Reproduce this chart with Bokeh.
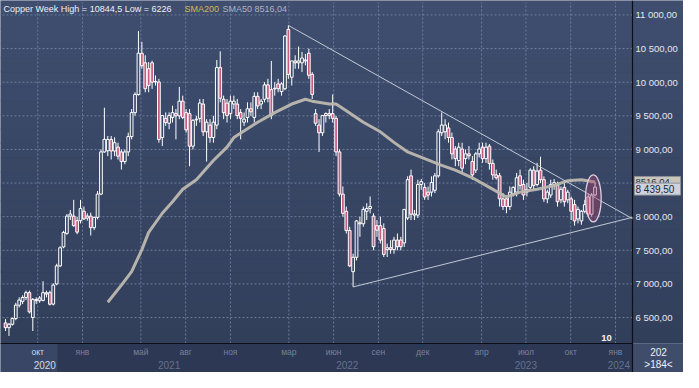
import numpy as np
import pandas as pd
from bokeh.plotting import figure
from bokeh.models import ColumnDataSource, Range1d
from bokeh.core.properties import value
from bokeh.embed import file_html
from bokeh.resources import INLINE

# ---------------- data (weekly copper candles) ----------------
start = "2020-07-27"
opens = [6420, 6350, 6400, 6485, 6684, 6740, 6798, 6870, 6500, 6769,
         6750, 6755, 6869, 6869, 6700, 7000, 7268, 7550, 7752, 8008,
         8008, 7940, 7940, 8080, 7980, 8008, 7837, 7990, 8336, 8963,
         8980, 9148, 8977, 9034, 8963, 8820, 8963, 9191, 9547, 9818,
         10430, 10288, 10200, 10288, 10003, 10003, 9177, 9462, 9390, 9476,
         9533, 9500, 9718, 9547, 9533, 9048, 9440, 9462, 9675, 9262,
         9362, 9177, 9362, 10217, 9746, 9689, 9533, 9675, 9675, 9547,
         9405, 9476, 9604, 9476, 9789, 9675, 9746, 9960, 9889, 9900,
         9974, 9860, 9903, 10786, 10074, 10316, 10288, 10288, 10330, 10430,
         10117, 9533, 9362, 9248, 9504, 9533, 9533, 9462, 8963, 8336,
         8080, 7795, 7182, 7396, 7909, 7894, 8080, 8122, 8008, 7866,
         7866, 7823, 7510, 7538, 7510, 7652, 7652, 7610, 7980, 8607,
         8023, 8023, 8479, 8436, 8365, 8365, 8393, 8607, 9248, 9262,
         9319, 9177, 9006, 8835, 9006, 8863, 8934, 8820, 8692, 8934,
         9034, 8863, 9048, 8792, 8621, 8607, 8265, 8265, 8151, 8336,
         8365, 8607, 8479, 8365, 8436, 8692, 8478, 8692, 8550, 8265,
         8322, 8479, 8464, 8251, 8436, 8251, 8265, 8179, 7966, 7937,
         8080, 8293, 8037, 8322]
highs = [6480, 6420, 6500, 6720, 6800, 6830, 6900, 6900, 6790, 6800,
         6820, 7040, 6900, 6900, 7010, 7300, 7560, 7790, 8040, 8100,
         8250, 8000, 8250, 8150, 8050, 8060, 8000, 8380, 9000, 9620,
         9200, 9200, 9180, 9100, 9000, 9000, 9250, 9600, 9850, 10760,
         10600, 10400, 10300, 10320, 10100, 10050, 9500, 9550, 9550, 9650,
         9600, 9930, 9800, 9600, 9600, 9450, 9500, 9750, 9750, 9450,
         9450, 9500, 10330, 10459, 9800, 9750, 9800, 9800, 9750, 9600,
         9550, 9700, 9700, 9850, 9850, 9750, 10000, 10050, 10316, 10000,
         10050, 10000, 10700, 10844.5, 10200, 10400, 10530, 10450, 10420, 10500,
         10150, 9600, 9450, 9450, 9550, 9600, 9818, 9500, 9000, 8450,
         8150, 7850, 7450, 7950, 8000, 8150, 8200, 8300, 8050, 7950,
         8000, 7900, 7600, 7650, 7700, 7750, 7700, 8100, 8600, 8700,
         8100, 8550, 8560, 8500, 8450, 8600, 8650, 9300, 9550, 9450,
         9400, 9250, 9050, 9100, 9100, 9000, 9050, 8900, 8960, 9100,
         9100, 9100, 9080, 8850, 8700, 8650, 8350, 8300, 8450, 8450,
         8650, 8700, 8550, 8500, 8720, 8750, 8800, 8892, 8600, 8400,
         8550, 8560, 8520, 8450, 8500, 8400, 8300, 8250, 8150, 8100,
         8250, 8350, 8350, 8520]
lows = [6300, 6226, 6380, 6460, 6650, 6700, 6760, 6560, 6300, 6700,
        6720, 6740, 6800, 6680, 6680, 6980, 7250, 7530, 7730, 7950,
        7850, 7740, 7900, 7950, 7940, 7720, 7800, 7960, 8320, 8950,
        8900, 8850, 8900, 8850, 8700, 8780, 8900, 9150, 9500, 9800,
        10200, 9850, 9850, 9900, 9950, 9100, 9050, 9350, 9300, 9400,
        9150, 9450, 9450, 9250, 8750, 9000, 9350, 9400, 9200, 8820,
        9100, 9100, 9300, 9700, 9450, 9400, 9450, 9600, 9450, 9150,
        9350, 9400, 9500, 9400, 9600, 9600, 9700, 9700, 9450, 9800,
        9850, 9800, 9880, 10050, 9950, 10200, 10200, 10150, 10250, 10050,
        9750, 9350, 8963, 9200, 9400, 9450, 9400, 8900, 8300, 8000,
        7750, 7250, 6955, 7350, 7700, 7850, 7950, 8050, 7500, 7700,
        7600, 7400, 7400, 7450, 7450, 7500, 7500, 7550, 7950, 7950,
        7950, 7980, 8400, 8250, 8250, 8300, 8350, 8580, 9200, 9150,
        9100, 8850, 8750, 8750, 8650, 8780, 8850, 8550, 8650, 8880,
        8800, 8800, 8700, 8550, 8550, 8150, 8100, 8050, 8100, 8300,
        8300, 8400, 8250, 8300, 8400, 8400, 8450, 8500, 8220, 8200,
        8280, 8400, 8150, 8200, 8150, 8200, 7950, 7866, 7900, 7880,
        8050, 8000, 8000, 8300]
closes = [6350, 6400, 6485, 6684, 6760, 6798, 6870, 6584, 6769, 6750,
          6790, 6869, 6850, 6698, 6983, 7268, 7538, 7766, 8008, 8040,
          7866, 7770, 8122, 7966, 8008, 7837, 7990, 8336, 8963, 9150,
          9148, 8977, 9100, 8900, 8820, 8963, 9191, 9547, 9818, 10430,
          10245, 9903, 9950, 10000, 10010, 9148, 9504, 9400, 9504, 9547,
          9500, 9718, 9476, 9291, 9048, 9433, 9450, 9689, 9262, 9405,
          9177, 9405, 10217, 9761, 9547, 9504, 9718, 9718, 9504, 9462,
          9450, 9604, 9560, 9789, 9647, 9718, 9960, 9761, 9504, 9910,
          9903, 9974, 10687, 10117, 10316, 10288, 10316, 10359, 10316, 10103,
          9818, 9390, 9248, 9504, 9533, 9504, 9462, 8963, 8336, 8051,
          7795, 7268, 7396, 7937, 7894, 8108, 8122, 8151, 7553, 7800,
          7652, 7439, 7538, 7510, 7652, 7553, 7553, 8108, 8550, 8037,
          8040, 8479, 8521, 8293, 8320, 8507, 8607, 9262, 9362, 9362,
          9177, 8934, 8863, 9034, 8721, 8934, 8906, 8621, 8934, 9006,
          8863, 9034, 8792, 8621, 8578, 8265, 8151, 8151, 8365, 8436,
          8578, 8464, 8322, 8407, 8692, 8464, 8678, 8550, 8265, 8365,
          8479, 8507, 8222, 8407, 8222, 8365, 8080, 7937, 8108, 8080,
          8179, 8037, 8322, 8439.5]

# SMA50 line (week index, value)
sma_week = [30, 34, 37, 40, 42, 46, 49, 52, 56, 61, 65, 67, 74, 79, 84, 88, 90, 95, 97,
            100, 105, 110, 114, 118, 123, 128, 132, 137, 142, 147, 151, 156, 161, 165, 169, 173]
sma_value = [6727, 6983, 7182, 7510, 7766, 8051, 8222, 8407, 8550, 8835, 9034, 9177, 9405,
             9547, 9675, 9746, 9718, 9675, 9675, 9576, 9405, 9262, 9105, 8963, 8863, 8764,
             8692, 8578, 8436, 8293, 8365, 8407, 8464, 8536, 8550, 8516]
sma_last = 8516.04

# triangle trend lines (week index, price)
upper_week = [83, 184]
upper_price = [10844.5, 7970]
lower_week = [102, 184]
lower_price = [6955, 7990]

# highlight ellipse round the last candles
mark_week = [172.5]
mark_price = [8272]
mark_w = [4.6]
mark_h = [700]

# axes
price_ticks = [6500, 7000, 7500, 8000, 8500, 9000, 9500, 10000, 10500, 11000]
price_labels = ["6 500,00", "7 000,00", "7 500,00", "8 000,00", "8 500,00", "9 000,00",
                "9 500,00", "10 000,00", "10 500,00", "11 000,00"]
month_dates = ["2020-10-01", "2021-01-01", "2021-05-01", "2021-08-01", "2021-11-01",
               "2022-03-01", "2022-06-01", "2022-09-01", "2022-12-01", "2023-04-01",
               "2023-07-01", "2023-10-01", "2024-01-01"]
month_names = ["окт", "янв", "май", "авг", "ноя", "мар", "июн", "сен", "дек",
               "апр", "июл", "окт", "янв"]
year_pos = [11.5, 48.0, 100.3, 152.7, 180.0]
year_names = ["2020", "2021", "2022", "2023", "2024"]
first_block_end = 15.2   # end of the highlighted "окт 2020" cell on the time scale

# ---------------- layout (pixels) ----------------
W, H = 683, 372
CX0, CX1 = 2, 632        # chart area, left / right
CY0, CY1 = 2, 343        # chart area, top / bottom
wk0, wk1 = -0.9, 184.0
pr0, pr1 = 6114, 11185
kx = (wk1 - wk0) / (CX1 - CX0)
ky = (pr1 - pr0) / (CY1 - CY0)
xr0, xr1 = wk0 - CX0 * kx, wk1 + (W - CX1) * kx
yr0, yr1 = pr0 - (H - CY1) * ky, pr1 + CY0 * ky


def X(px):
    return xr0 + px * kx


def Y(py):
    return yr1 - py * ky


BG = "#3a4968"
BAND = "#2c3854"
GRID = "#7686a6"
FONT = value("Liberation Sans")

n = len(closes)
idx = list(range(n))
o = np.array(opens, float); c = np.array(closes, float)
bull = c >= o
src = ColumnDataSource(dict(
    x=idx, hi=highs, lo=lows,
    top=np.maximum(o, c), bot=np.minimum(o, c),
    fill=[BG if b else "#c95a80" for b in bull],
))

p = figure(width=W, height=H, output_backend="svg", toolbar_location=None,
           x_range=Range1d(xr0, xr1), y_range=Range1d(yr0, yr1),
           x_axis_location=None, y_axis_location=None, min_border=0)
p.background_fill_color = BG
p.border_fill_color = BG
p.outline_line_color = "#c4c9d2"
p.outline_line_width = 2
p.xgrid.visible = False
p.ygrid.visible = False

# soft vertical gradient of the chart background (top lighter, bottom darker)
nb = 24
edges = np.linspace(pr0, yr1, nb + 1)
top_rgb = np.array([0x3f, 0x4e, 0x6f]); bot_rgb = np.array([0x32, 0x3f, 0x5b])
cols = []
for k in range(nb):
    t = (k + 0.5) / nb
    r, g, b = (bot_rgb + (top_rgb - bot_rgb) * t).round().astype(int)
    cols.append(f"#{r:02x}{g:02x}{b:02x}")
p.quad(left=[xr0] * nb, right=[xr1] * nb, bottom=list(edges[:-1]), top=list(edges[1:]),
       fill_color=cols, line_color=cols, line_width=0.5)

# bottom time band
p.quad(left=[xr0], right=[wk1], bottom=[yr0], top=[pr0], fill_color=BAND, line_color=None)
p.quad(left=[xr0], right=[first_block_end], bottom=[yr0], top=[pr0],
       fill_color="#394665", line_color=None)
# bar-count cell in the bottom-right corner
p.quad(left=[wk1], right=[xr1], bottom=[yr0], top=[pr0], fill_color="#3f4d6b",
       line_color="#5a6886", line_width=1)

# grid lines (dashed)
mpos = list((pd.to_datetime(month_dates) - pd.Timestamp(start)).days / 7.0)
p.segment(x0=mpos, y0=[pr0] * len(mpos), x1=mpos, y1=[pr1] * len(mpos),
          line_color=GRID, line_dash="2 2", line_width=1, line_alpha=0.85)
p.segment(x0=[wk0] * len(price_ticks), y0=price_ticks, x1=[wk1] * len(price_ticks),
          y1=price_ticks, line_color=GRID, line_dash="2 2", line_width=1, line_alpha=0.85)

# frame lines (black)
p.segment(x0=[wk1], y0=[yr0], x1=[wk1], y1=[yr1], line_color="#0c0f18", line_width=1.2)
p.segment(x0=[xr0], y0=[pr0], x1=[wk1], y1=[pr0], line_color="#0c0f18", line_width=1.2)

# candles
p.segment(x0="x", y0="lo", x1="x", y1="hi", source=src, line_color="white", line_width=1)
p.vbar(x="x", width=0.8, top="top", bottom="bot", source=src, fill_color="fill",
       line_color="white", line_width=1)

# SMA50
p.line(sma_week, sma_value, line_color="#bdb8b0", line_width=3, line_alpha=0.95)

# trend lines
p.line(upper_week, upper_price, line_color="#c2c8d6", line_width=1)
p.line(lower_week, lower_price, line_color="#c2c8d6", line_width=1)

# highlight ellipse
p.ellipse(x=mark_week, y=mark_price, width=mark_w, height=mark_h, fill_color="#a8406c",
          fill_alpha=0.4, line_color="#e0cfe0", line_width=1.3)

# price scale labels (right)
p.text(x=[X(CX1 + 3)] * len(price_ticks), y=price_ticks, text=price_labels,
       text_color="#e4e8ef", text_font=FONT, text_font_size="9.5px",
       text_baseline="middle", text_align="left")

# last-value boxes on the price scale
box_y_close = closes[-1] - 2 * ky
p.rect(x=[X(CX1 + 25)], y=[sma_last], width=[46], height=[11], width_units="screen",
       height_units="screen", fill_color="#c9c5bd", line_color="#8d8f96", line_width=1)
p.text(x=[X(CX1 + 3)], y=[sma_last], text=["8516,04"], text_color="#2a3248",
       text_font=FONT, text_font_size="9.5px", text_baseline="middle")
p.rect(x=[X(CX1 + 25)], y=[box_y_close], width=[46], height=[12], width_units="screen",
       height_units="screen", fill_color="#cfd2d8", line_color="#8d939e", line_width=1)
p.text(x=[X(CX1 + 3)], y=[box_y_close], text=["8 439,50"], text_color="#1c2640",
       text_font=FONT, text_font_size="10px", text_baseline="middle")

# time scale labels (bottom)
mcol = ["#d4dae6"] + ["#76819c"] * (len(month_names) - 1)
p.text(x=mpos, y=[Y(351)] * len(mpos), text=month_names, text_color=mcol,
       text_font=FONT, text_font_size="8.5px", text_align="center", text_baseline="middle")
ycol = ["#d4dae6"] + ["#66718d"] * (len(year_names) - 1)
p.text(x=year_pos, y=[Y(364)] * len(year_pos), text=year_names, text_color=ycol,
       text_font=FONT, text_font_size="10px", text_align="center", text_baseline="middle")

# header
p.text(x=[X(3)], y=[Y(8)], text=["Copper Week High = 10844,5 Low = 6226"],
       text_color="#eef0f4", text_font=FONT, text_font_size="9px", text_baseline="middle")
p.text(x=[X(184)], y=[Y(8)], text=["SMA200"], text_color="#d6b64c",
       text_font=FONT, text_font_size="9px", text_baseline="middle")
p.text(x=[X(222)], y=[Y(8)], text=["SMA50 8516,04"], text_color="#aeb3bf",
       text_font=FONT, text_font_size="9px", text_baseline="middle")

# corner texts
p.text(x=[X(606)], y=[Y(337)], text=["10"], text_color="#f2f4f8", text_font=FONT,
       text_font_size="9.5px", text_font_style="bold", text_align="center",
       text_baseline="middle")
p.text(x=[X(658)], y=[Y(351)], text=["202"], text_color="#eef0f4", text_font=FONT,
       text_font_size="10px", text_align="center", text_baseline="middle")
p.text(x=[X(658)], y=[Y(364)], text=[">184<"], text_color="#eef0f4", text_font=FONT,
       text_font_size="10px", text_align="center", text_baseline="middle")

open("out.html", "w").write(file_html(p, INLINE))
